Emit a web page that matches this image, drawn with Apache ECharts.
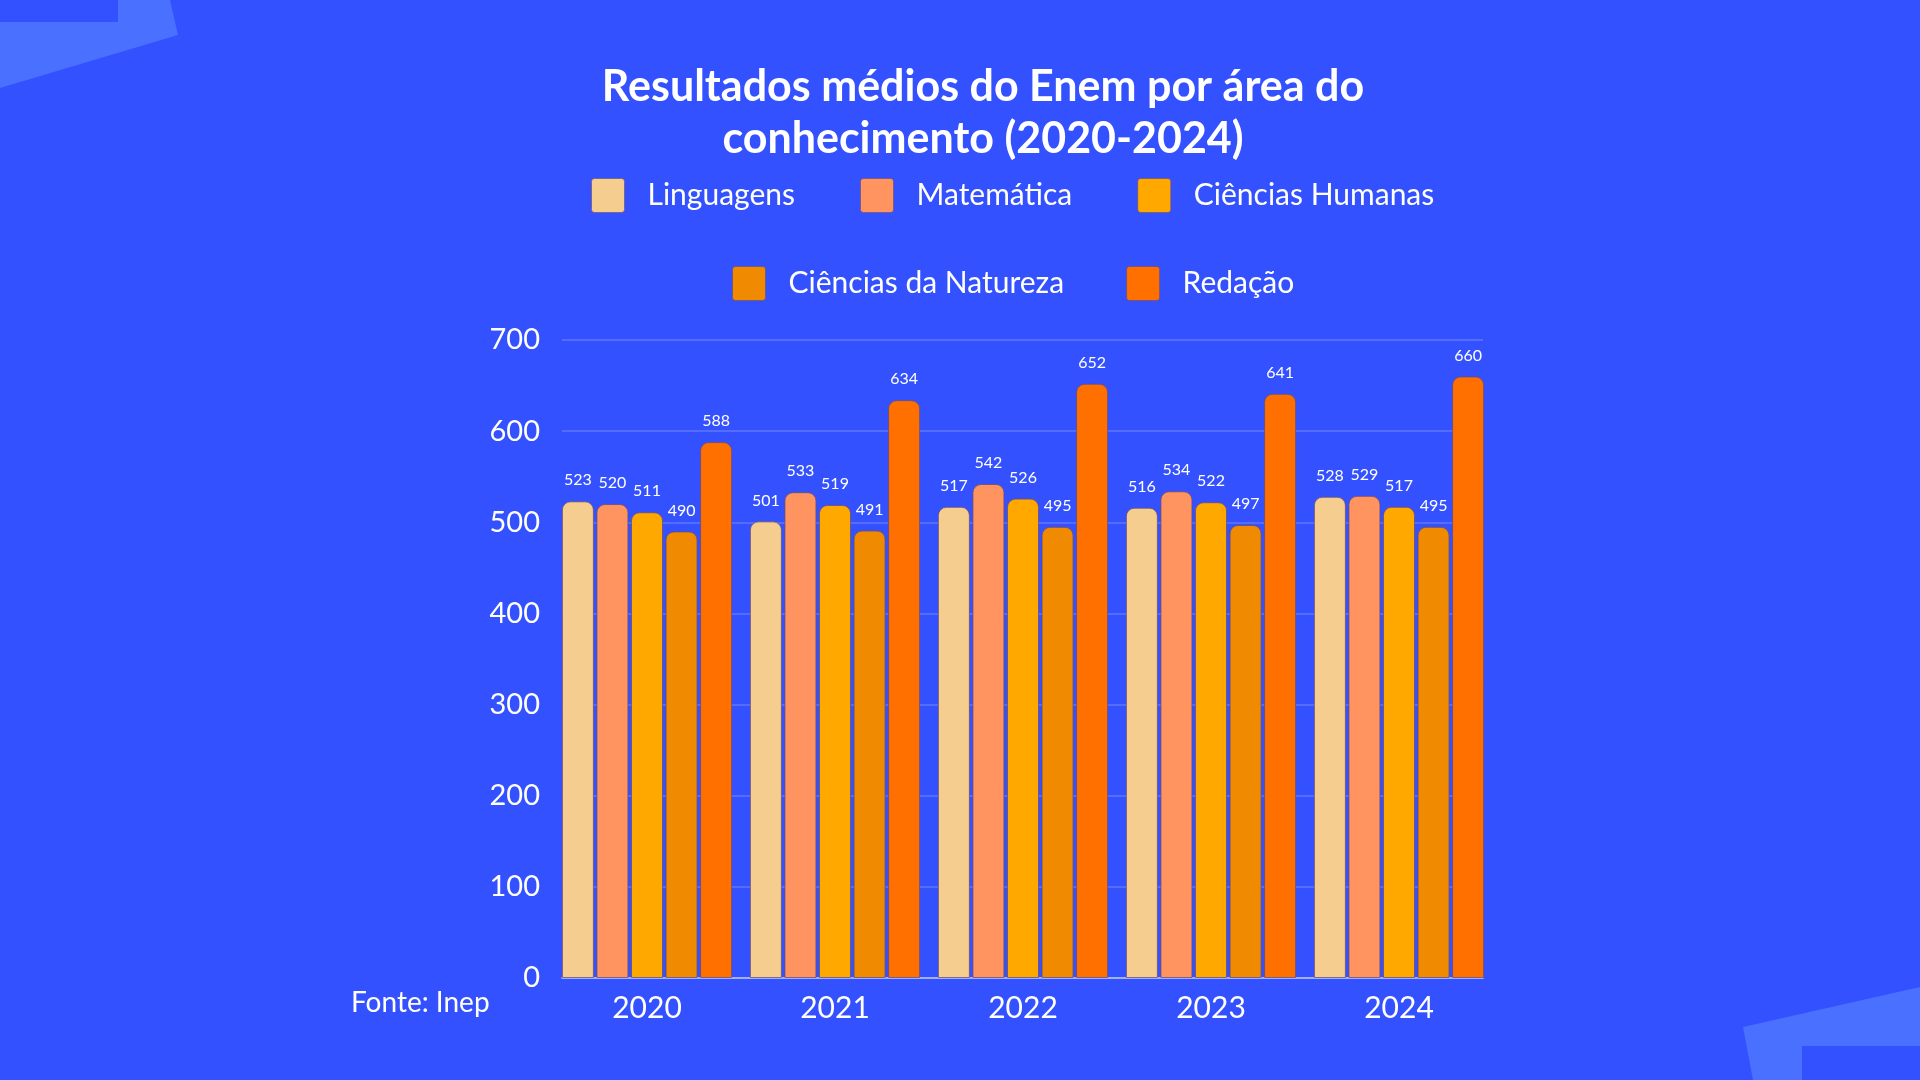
<!DOCTYPE html>
<html>
<head>
<meta charset="utf-8">
<script src="https://cdn.jsdelivr.net/npm/echarts@6/dist/echarts.min.js"></script>
<style>
html,body{margin:0;padding:0;background:#3451FF;}
#chart{width:1920px;height:1080px;}
</style>
</head>
<body>
<div id="chart"></div>
<script>
const categories = ['2020', '2021', '2022', '2023', '2024'];
const linguagens = [523, 501, 517, 516, 528];
const matematica = [520, 533, 542, 534, 529];
const humanas = [511, 519, 526, 522, 517];
const natureza = [490, 491, 495, 497, 495];
const redacao = [588, 634, 652, 641, 660];
const seriesNames = ['Linguagens', 'Matemática', 'Ciências Humanas', 'Ciências da Natureza', 'Redação'];
const seriesData = [linguagens, matematica, humanas, natureza, redacao];
const colors = ['#F5CD8E', '#FF9460', '#FFA800', '#F08A00', '#FF7000'];
const yTicks = { min: 0, max: 700, interval: 100 };

const FONT = 'Lato';
const chart = echarts.init(document.getElementById('chart'));

const series = seriesNames.map((name, i) => ({
  name: name,
  type: 'bar',
  xAxisIndex: 0,
  yAxisIndex: 0,
  data: seriesData[i],
  barWidth: 32,
  barGap: '8%',
  itemStyle: {
    color: colors[i],
    borderRadius: [8, 8, 0, 0],
    borderColor: 'rgba(105,75,115,0.75)',
    borderWidth: 1
  },
  label: {
    show: true,
    position: 'top',
    distance: 13,
    color: '#ffffff',
    fontFamily: FONT,
    fontSize: 16
  },
  z: 3
}));

const legendCommon = {
  itemWidth: 33,
  itemHeight: 34,
  icon: 'path://M3,0 H30 A3,3 0 0 1 33,3 V31 A3,3 0 0 1 30,34 H3 A3,3 0 0 1 0,31 V3 A3,3 0 0 1 3,0 Z',
  padding: 0,
  textStyle: { color: '#ffffff', fontFamily: FONT, fontSize: 30, padding: [0, 0, 0, 18] },
  itemStyle: { borderColor: 'rgba(105,75,115,0.6)', borderWidth: 1 }
};

chart.setOption({
  backgroundColor: '#3451FF',
  animation: false,
  graphic: [
    { type: 'polygon', shape: { points: [[0,22],[118,22],[118,0],[170,0],[178,35],[0,88]] }, style: { fill: '#4A70FF' }, z: -10 },
    { type: 'polygon', shape: { points: [[1743,1027],[1920,987],[1920,1046],[1802,1046],[1802,1080],[1753,1080]] }, style: { fill: '#4A70FF' }, z: -10 },
    { type: 'text', x: 983, y: 87, style: { text: 'Resultados médios do Enem por área do', fill: '#ffffff', font: 'bold 43px Lato', textAlign: 'center', textVerticalAlign: 'middle' } },
    { type: 'text', x: 983, y: 139, style: { text: 'conhecimento (2020-2024)', fill: '#ffffff', font: 'bold 43px Lato', textAlign: 'center', textVerticalAlign: 'middle' } },
    { type: 'text', x: 351, y: 1003, style: { text: 'Fonte: Inep', fill: '#ffffff', font: '28px Lato', textAlign: 'left', textVerticalAlign: 'middle' } }
  ],
  legend: [
    Object.assign({}, legendCommon, { data: seriesNames.slice(0, 3), left: 591, top: 178, itemGap: 65 }),
    Object.assign({}, legendCommon, { data: seriesNames.slice(3), left: 732, top: 266, itemGap: 62 })
  ],
  grid: [
    { left: 553, width: 940, top: 340, bottom: 102 },
    { left: 562, width: 921, top: 340, bottom: 102 }
  ],
  xAxis: [
    {
      type: 'category', gridIndex: 0, data: categories,
      axisLine: { show: false }, axisTick: { show: false },
      axisLabel: { color: '#ffffff', fontFamily: FONT, fontSize: 30, margin: 15 }
    },
    {
      type: 'value', gridIndex: 1, min: 0, max: 1,
      axisLine: { show: true, lineStyle: { color: 'rgba(255,255,255,0.45)', width: 2 } },
      axisTick: { show: false }, axisLabel: { show: false }, splitLine: { show: false }
    }
  ],
  yAxis: [
    { type: 'value', gridIndex: 0, min: yTicks.min, max: yTicks.max, interval: yTicks.interval, show: false },
    {
      type: 'value', gridIndex: 1, min: yTicks.min, max: yTicks.max, interval: yTicks.interval,
      axisLine: { show: false }, axisTick: { show: false },
      axisLabel: { color: '#ffffff', fontFamily: FONT, fontSize: 29, margin: 22 },
      splitLine: { lineStyle: { color: 'rgba(255,255,255,0.22)', width: 1.5 } }
    }
  ],
  series: series
});
</script>
</body>
</html>
